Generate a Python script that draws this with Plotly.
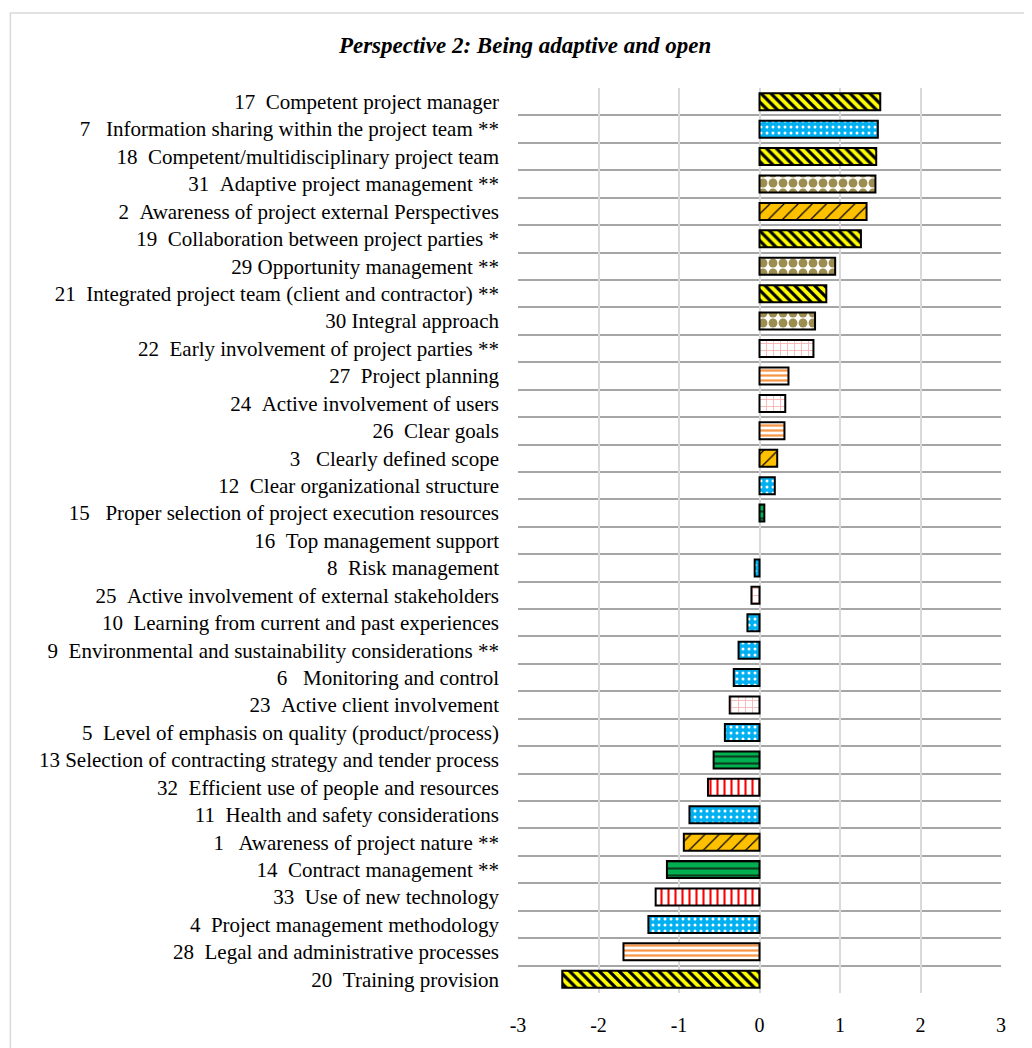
import plotly.graph_objects as go

NB = "\u00a0"

labels = [
    "17" + NB * 2 + "Competent project manager",
    "7" + NB * 2 + " Information sharing within the project team **",
    "18" + NB * 2 + "Competent/multidisciplinary project team",
    "31" + NB * 2 + "Adaptive project management **",
    "2" + NB * 2 + "Awareness of project external Perspectives",
    "19" + NB * 2 + "Collaboration between project parties *",
    "29 Opportunity management **",
    "21" + NB * 2 + "Integrated project team (client and contractor) **",
    "30 Integral approach",
    "22" + NB * 2 + "Early involvement of project parties **",
    "27" + NB * 2 + "Project planning",
    "24" + NB * 2 + "Active involvement of users",
    "26" + NB * 2 + "Clear goals",
    "3" + NB * 2 + " Clearly defined scope",
    "12" + NB * 2 + "Clear organizational structure",
    "15" + NB * 2 + " Proper selection of project execution resources",
    "16" + NB * 2 + "Top management support",
    "8" + NB * 2 + "Risk management",
    "25" + NB * 2 + "Active involvement of external stakeholders",
    "10" + NB * 2 + "Learning from current and past experiences",
    "9" + NB * 2 + "Environmental and sustainability considerations **",
    "6" + NB * 2 + " Monitoring and control",
    "23" + NB * 2 + "Active client involvement",
    "5" + NB * 2 + "Level of emphasis on quality (product/process)",
    "13 Selection of contracting strategy and tender process",
    "32" + NB * 2 + "Efficient use of people and resources",
    "11" + NB * 2 + "Health and safety considerations",
    "1" + NB * 2 + " Awareness of project nature **",
    "14" + NB * 2 + "Contract management **",
    "33" + NB * 2 + "Use of new technology",
    "4" + NB * 2 + "Project management methodology",
    "28" + NB * 2 + "Legal and administrative processes",
    "20" + NB * 2 + "Training provision",
]

values = [
    1.50, 1.47, 1.45, 1.44, 1.33, 1.26, 0.94, 0.83, 0.69, 0.67,
    0.36, 0.32, 0.31, 0.22, 0.19, 0.06, 0.0, -0.06, -0.10, -0.15,
    -0.26, -0.32, -0.37, -0.43, -0.57, -0.64, -0.87, -0.94, -1.15, -1.29,
    -1.38, -1.69, -2.45,
]

groups = [
    "yellow", "blue", "yellow", "checker", "gold", "yellow", "checker", "yellow", "checker", "pink",
    "orange", "pink", "orange", "gold", "blue", "green", "none", "blue", "pink", "blue",
    "blue", "blue", "pink", "blue", "green", "red", "blue", "gold", "green", "red",
    "blue", "orange", "yellow",
]

x_ticks = [-3, -2, -1, 0, 1, 2, 3]

styles = {
    "yellow": dict(shape="\\", bgcolor="#FFFF00", fgcolor="#000000", size=7, solidity=0.45),
    "blue": dict(shape=".", bgcolor="#00B0F0", fgcolor="#FFFFFF", size=6, solidity=0.2),
    "checker": dict(shape=".", bgcolor="#FFFFFF", fgcolor="#9C8E50", size=10, solidity=0.62),
    "gold": dict(shape="/", bgcolor="#FFC000", fgcolor="#000000", size=10, solidity=0.12),
    "pink": dict(shape="+", bgcolor="#FFFFFF", fgcolor="#F6B8B8", size=7, solidity=0.25),
    "orange": dict(shape="-", bgcolor="#FFFFFF", fgcolor="#F79646", size=5, solidity=0.45),
    "green": dict(shape="-", bgcolor="#00B050", fgcolor="#0B3D1E", size=7, solidity=0.3),
    "red": dict(shape="|", bgcolor="#FFFFFF", fgcolor="#FF0000", size=7, solidity=0.3),
    "none": dict(shape="", bgcolor="#FFFFFF", fgcolor="#FFFFFF", size=7, solidity=0.3),
}

n = len(labels)
pos = list(range(n))

fig = go.Figure()
for g, st in styles.items():
    ys = [pos[i] for i in range(n) if groups[i] == g]
    xs = [values[i] for i in range(n) if groups[i] == g]
    if not ys:
        continue
    lw = 0 if g == "none" else 2
    fig.add_trace(go.Bar(
        x=xs, y=ys, orientation="h", width=0.62,
        marker=dict(
            color=st["bgcolor"],
            line=dict(color="#000000", width=lw),
            pattern=dict(shape=st["shape"], bgcolor=st["bgcolor"], fgcolor=st["fgcolor"],
                         size=st["size"], solidity=st["solidity"], fillmode="replace"),
        ),
        showlegend=False, hoverinfo="x+y",
    ))

font_family = "Liberation Serif, Times New Roman, serif"

fig.update_layout(
    width=1024, height=1040,
    paper_bgcolor="#FFFFFF", plot_bgcolor="#FFFFFF",
    barmode="overlay",
    margin=dict(l=510, r=31, t=80, b=50),
    title=dict(
        text="<b><i>Perspective 2: Being adaptive and open</i></b>",
        x=0.505, xanchor="center", y=0.964, yanchor="middle",
        font=dict(family=font_family, size=23, color="#000000"),
    ),
    font=dict(family=font_family, color="#000000"),
    xaxis=dict(
        range=[-3, 3], tickvals=x_ticks, ticktext=[str(v) for v in x_ticks],
        showgrid=True, gridcolor="#D9D9D9", gridwidth=2,
        zeroline=False, showline=False, ticks="",
        tickfont=dict(size=20, family=font_family), ticklabelstandoff=18,
    ),
    yaxis=dict(
        range=[n - 0.5, -0.5], tickvals=pos, ticktext=labels,
        showgrid=False, zeroline=False, showline=False, ticks="",
        tickfont=dict(size=21, family=font_family), ticklabelstandoff=18,
        minor=dict(tickvals=[i - 0.5 for i in range(n + 1)], showgrid=True,
                   gridcolor="#A6A6A6", gridwidth=2, ticks=""),
    ),
    shapes=[dict(type="rect", xref="paper", yref="paper",
                 x0=-1.051, x1=1.08, y0=-0.07, y1=1.083,
                 line=dict(color="#D9D9D9", width=1.5), fillcolor="rgba(0,0,0,0)", layer="below")],
)

fig.write_html("out.html")
